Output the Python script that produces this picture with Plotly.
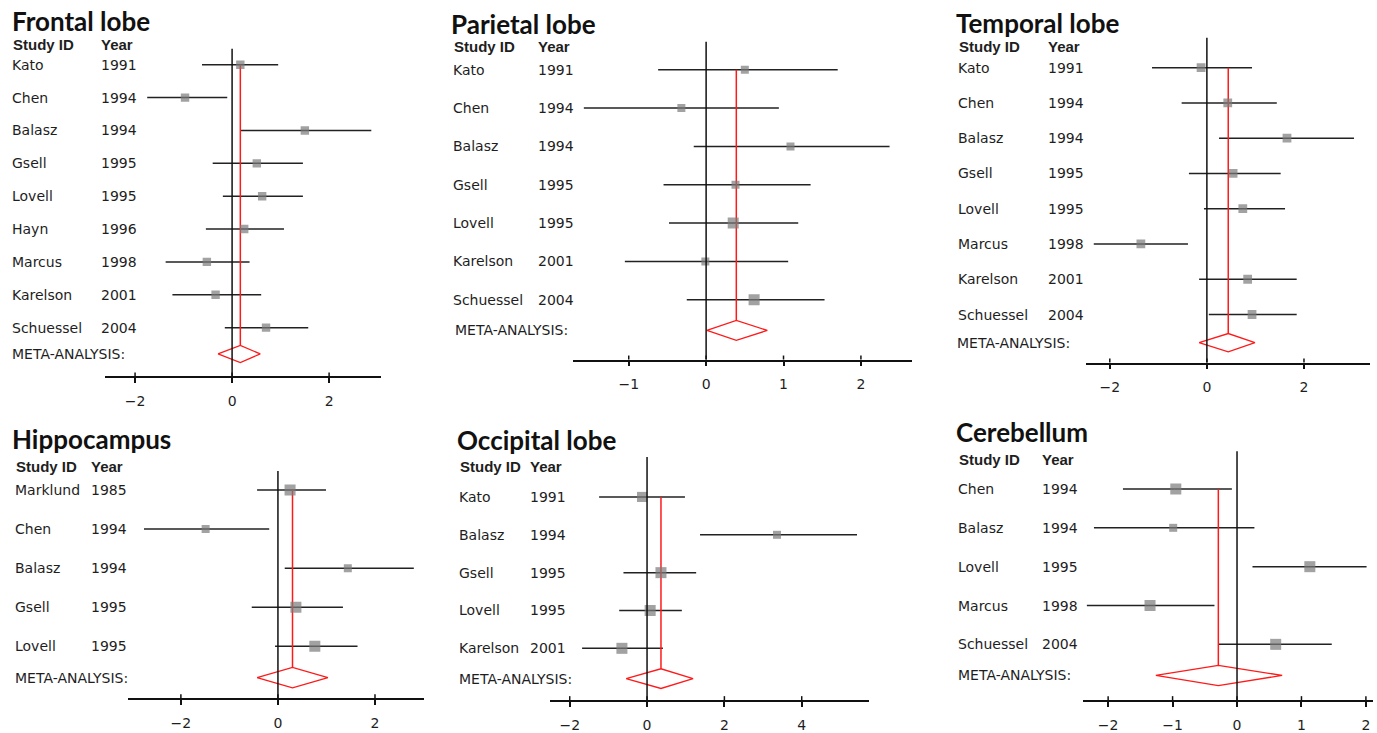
import math
import plotly.graph_objects as go

W, H = 1377, 733

# ---------------- data ----------------
frontal_studies = ["Kato", "Chen", "Balasz", "Gsell", "Lovell", "Hayn", "Marcus", "Karelson", "Schuessel"]
frontal_years = ["1991", "1994", "1994", "1995", "1995", "1996", "1998", "2001", "2004"]
frontal_est = [0.17, -0.97, 1.50, 0.51, 0.62, 0.25, -0.52, -0.34, 0.70]
frontal_lo = [-0.62, -1.75, 0.18, -0.40, -0.19, -0.54, -1.37, -1.23, -0.15]
frontal_hi = [0.95, -0.10, 2.87, 1.46, 1.46, 1.07, 0.36, 0.60, 1.57]
frontal_wt = [1.1, 1.1, 1.1, 1.1, 1.1, 1.1, 1.1, 1.1, 1.1]
frontal_meta = [0.17, -0.29, 0.58]

parietal_studies = ["Kato", "Chen", "Balasz", "Gsell", "Lovell", "Karelson", "Schuessel"]
parietal_years = ["1991", "1994", "1994", "1995", "1995", "2001", "2004"]
parietal_est = [0.50, -0.32, 1.09, 0.38, 0.35, -0.01, 0.62]
parietal_lo = [-0.62, -1.58, -0.16, -0.55, -0.48, -1.05, -0.25]
parietal_hi = [1.70, 0.94, 2.37, 1.35, 1.19, 1.06, 1.53]
parietal_wt = [1.0, 1.0, 1.0, 1.0, 1.9, 1.0, 1.9]
parietal_meta = [0.39, 0.01, 0.79]

temporal_studies = ["Kato", "Chen", "Balasz", "Gsell", "Lovell", "Marcus", "Karelson", "Schuessel"]
temporal_years = ["1991", "1994", "1994", "1995", "1995", "1998", "2001", "2004"]
temporal_est = [-0.12, 0.43, 1.65, 0.54, 0.74, -1.36, 0.84, 0.93]
temporal_lo = [-1.13, -0.52, 0.25, -0.37, -0.06, -2.33, -0.16, 0.04]
temporal_hi = [0.93, 1.44, 3.03, 1.52, 1.61, -0.39, 1.85, 1.85]
temporal_wt = [1.2, 1.2, 1.2, 1.2, 1.2, 1.2, 1.2, 1.2]
temporal_meta = [0.44, -0.16, 0.99]

hippo_studies = ["Marklund", "Chen", "Balasz", "Gsell", "Lovell"]
hippo_years = ["1985", "1994", "1994", "1995", "1995"]
hippo_est = [0.25, -1.49, 1.44, 0.37, 0.76]
hippo_lo = [-0.43, -2.76, 0.14, -0.54, -0.06]
hippo_hi = [0.99, -0.18, 2.80, 1.34, 1.64]
hippo_wt = [1.9, 1.0, 1.0, 1.9, 1.9]
hippo_meta = [0.30, -0.43, 1.03]

occipital_studies = ["Kato", "Balasz", "Gsell", "Lovell", "Karelson"]
occipital_years = ["1991", "1994", "1995", "1995", "2001"]
occipital_est = [-0.13, 3.36, 0.36, 0.08, -0.65]
occipital_lo = [-1.24, 1.37, -0.61, -0.72, -1.68]
occipital_hi = [0.98, 5.43, 1.27, 0.90, 0.41]
occipital_wt = [1.6, 1.0, 1.9, 1.9, 1.9]
occipital_meta = [0.36, -0.54, 1.19]

cereb_studies = ["Chen", "Balasz", "Lovell", "Marcus", "Schuessel"]
cereb_years = ["1994", "1994", "1995", "1998", "2004"]
cereb_est = [-0.95, -0.99, 1.13, -1.35, 0.60]
cereb_lo = [-1.77, -2.22, 0.24, -2.33, -0.29]
cereb_hi = [-0.08, 0.27, 2.01, -0.35, 1.47]
cereb_wt = [1.9, 1.0, 1.9, 1.9, 1.9]
cereb_meta = [-0.29, -1.26, 0.70]

# ---------------- layout per panel (pixels) ----------------
panels = [
    dict(title="Frontal lobe", s=frontal_studies, yr=frontal_years, est=frontal_est, lo=frontal_lo,
         hi=frontal_hi, wt=frontal_wt, meta=frontal_meta,
         box=(105, 381, 49, 378), xr=(-2.62, 3.07), row0=65, step=33.0, dtick=2,
         tx=10, ty=21, hy=45, nx=10, yx=99, mx=10),
    dict(title="Parietal lobe", s=parietal_studies, yr=parietal_years, est=parietal_est, lo=parietal_lo,
         hi=parietal_hi, wt=parietal_wt, meta=parietal_meta,
         box=(573, 912, 42, 361), xr=(-1.72, 2.66), row0=70, step=38.5, dtick=1,
         tx=449, ty=24, hy=47, nx=451, yx=536, mx=453),
    dict(title="Temporal lobe", s=temporal_studies, yr=temporal_years, est=temporal_est, lo=temporal_lo,
         hi=temporal_hi, wt=temporal_wt, meta=temporal_meta,
         box=(1086, 1370, 38, 364), xr=(-2.49, 3.36), row0=68, step=35.4, dtick=2,
         tx=954, ty=23, hy=47, nx=956, yx=1046, mx=955),
    dict(title="Hippocampus", s=hippo_studies, yr=hippo_years, est=hippo_est, lo=hippo_lo,
         hi=hippo_hi, wt=hippo_wt, meta=hippo_meta,
         box=(128, 424, 473, 701), xr=(-3.09, 3.01), row0=492, step=39.25, dtick=2,
         tx=10, ty=441, hy=468, nx=13, yx=89, mx=13),
    dict(title="Occipital lobe", s=occipital_studies, yr=occipital_years, est=occipital_est,
         lo=occipital_lo, hi=occipital_hi, wt=occipital_wt, meta=occipital_meta,
         box=(550, 869, 459, 703), xr=(-2.51, 5.74), row0=499, step=38.0, dtick=2,
         tx=455, ty=442, hy=468, nx=457, yx=528, mx=457),
    dict(title="Cerebellum", s=cereb_studies, yr=cereb_years, est=cereb_est, lo=cereb_lo,
         hi=cereb_hi, wt=cereb_wt, meta=cereb_meta,
         box=(1083, 1373, 453, 703), xr=(-2.39, 2.11), row0=491, step=39.0, dtick=1,
         tx=954, ty=434, hy=461, nx=956, yx=1040, mx=956),
]

BODY = "DejaVu Sans"
HEAD = "Liberation Sans"
TEXT = "#1e1e1e"
META_GAP = 0.8   # meta row sits this many rows below last study
DH = 0.26        # diamond half height (rows)

fig = go.Figure()
layout = dict(width=W, height=H, margin=dict(l=0, r=0, t=0, b=0),
              paper_bgcolor="white", plot_bgcolor="white", showlegend=False)
shapes, annotations = [], []

for i, p in enumerate(panels):
    sfx = "" if i == 0 else str(i + 1)
    xname, yname = "x" + sfx, "y" + sfx
    x0, x1, ytop, ybot = p["box"]
    step, row0 = p["step"], p["row0"]
    layout["xaxis" + sfx] = dict(
        domain=[x0 / W, x1 / W], range=list(p["xr"]), anchor=yname,
        showline=True, linecolor="#111", linewidth=1.5, ticks="outside", ticklen=5,
        tickwidth=1.5, tickcolor="#111", tick0=0, dtick=p["dtick"], showgrid=False,
        zeroline=False, ticklabelstandoff=6, fixedrange=True,
        tickfont=dict(family=BODY, size=14, color=TEXT))
    layout["yaxis" + sfx] = dict(
        domain=[1 - ybot / H, 1 - ytop / H],
        range=[(ybot - row0) / step, -(row0 - ytop) / step],
        visible=False, anchor=xname, fixedrange=True)

    n = len(p["s"])
    rows = list(range(n))
    my = n - 1 + META_GAP
    m, mlo, mhi = p["meta"]

    # zero line
    shapes.append(dict(type="line", xref=xname, yref=yname + " domain", x0=0, x1=0, y0=0, y1=1,
                       line=dict(color="#111", width=1.5), layer="above"))
    # short upward tick marks (ticks in the reference cross the axis line)
    t = math.ceil(p["xr"][0] / p["dtick"]) * p["dtick"]
    while t <= p["xr"][1]:
        shapes.append(dict(type="line", xref=xname, yref=yname + " domain", x0=t, x1=t,
                           y0=0, y1=4 / (ybot - ytop), line=dict(color="#111", width=1.5)))
        t += p["dtick"]
    # CI lines
    cx, cy = [], []
    for r, lo, hi in zip(rows, p["lo"], p["hi"]):
        cx += [lo, hi, None]
        cy += [r, r, None]
    fig.add_trace(go.Scatter(x=cx, y=cy, mode="lines", line=dict(color="#222", width=1.5),
                             xaxis=xname, yaxis=yname, hoverinfo="skip"))
    # red pooled line
    fig.add_trace(go.Scatter(x=[m, m], y=[0, my - DH], mode="lines",
                             line=dict(color="#ff1a1a", width=1.5),
                             xaxis=xname, yaxis=yname, hoverinfo="skip"))
    # diamond
    fig.add_trace(go.Scatter(x=[mlo, m, mhi, m, mlo], y=[my, my - DH, my, my + DH, my],
                             mode="lines", line=dict(color="#ff1a1a", width=1.3),
                             xaxis=xname, yaxis=yname, hoverinfo="skip"))
    # point estimates
    fig.add_trace(go.Scatter(x=p["est"], y=rows, mode="markers",
                             marker=dict(symbol="square", color="#7a7a7a",
                                         size=[8 * math.sqrt(w) for w in p["wt"]],
                                         line=dict(width=0)),
                             xaxis=xname, yaxis=yname))

    # texts
    annotations.append(dict(text="<b>" + p["title"] + "</b>", x=p["tx"] / W, y=1 - p["ty"] / H,
                            xref="paper", yref="paper", xanchor="left", yanchor="middle",
                            showarrow=False, font=dict(family="Lato", size=26, color="#111")))
    for txt, xx in (("Study ID", p["nx"] + 1), ("Year", p["yx"])):
        annotations.append(dict(text="<b>" + txt + "</b>", x=xx / W, y=1 - p["hy"] / H,
                                xref="paper", yref="paper", xanchor="left", yanchor="middle",
                                showarrow=False, font=dict(family=HEAD, size=15, color=TEXT)))
    for r, name, yr in zip(rows, p["s"], p["yr"]):
        annotations.append(dict(text=name, x=p["nx"] / W, y=r, xref="paper", yref=yname,
                                xanchor="left", yanchor="middle", showarrow=False,
                                font=dict(family=BODY, size=14, color=TEXT)))
        annotations.append(dict(text=yr, x=p["yx"] / W, y=r, xref="paper", yref=yname,
                                xanchor="left", yanchor="middle", showarrow=False,
                                font=dict(family=BODY, size=14, color=TEXT)))
    annotations.append(dict(text="META-ANALYSIS:", x=p["mx"] / W, y=my, xref="paper", yref=yname,
                            xanchor="left", yanchor="middle", showarrow=False,
                            font=dict(family=BODY, size=14, color=TEXT)))

layout["shapes"] = shapes
layout["annotations"] = annotations
fig.update_layout(**layout)
fig.write_html("out.html", config={"displayModeBar": False},
               post_script="document.body.style.margin='0px';")
